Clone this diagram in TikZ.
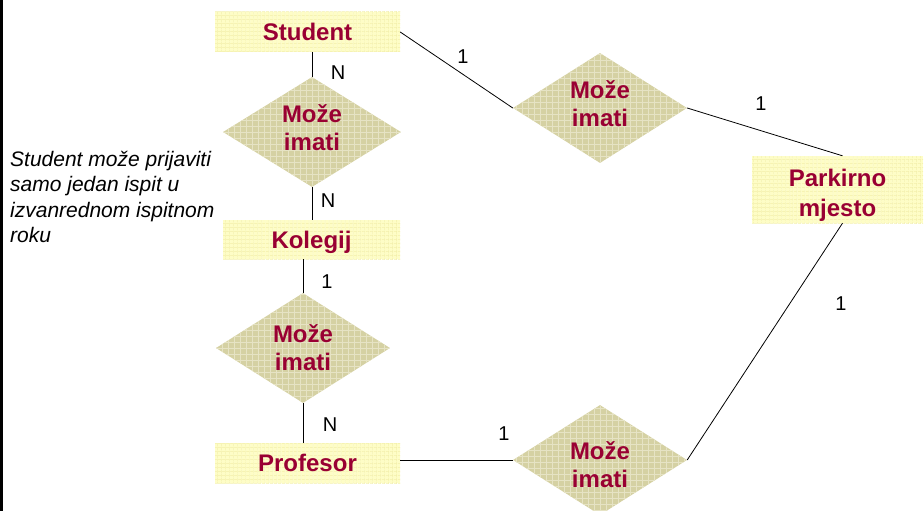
\documentclass[tikz,border=0pt]{standalone}
\usepackage{fontspec}
\setmainfont{Liberation Sans}
\usetikzlibrary{shapes.geometric,patterns.meta}
\definecolor{entfill}{HTML}{FEFDC6}
\definecolor{entgrid}{HTML}{F2EFA8}
\definecolor{relfill}{HTML}{D5D1A3}
\definecolor{relgrid}{HTML}{E6E3C4}
\definecolor{ertext}{HTML}{990033}
\tikzset{
  entity/.style={rectangle, inner sep=0pt, fill=entfill,
    postaction={pattern={Lines[angle=0,distance=4pt,line width=0.7pt]}, pattern color=entgrid},
    postaction={pattern={Lines[angle=90,distance=4pt,line width=0.7pt]}, pattern color=entgrid},
    text=ertext, font=\fontsize{24}{30}\selectfont\bfseries},
  relation/.style={diamond, inner sep=0pt, minimum width=174pt, minimum height=110pt, fill=relfill,
    postaction={pattern={Lines[angle=0,distance=6pt,line width=1pt]}, pattern color=relgrid},
    postaction={pattern={Lines[angle=90,distance=6pt,line width=1pt]}, pattern color=relgrid}},
  ertxt/.style={inner sep=0pt, align=center, text=ertext, font=\fontsize{24}{28}\selectfont\bfseries},
  card/.style={font=\fontsize{20}{24}\selectfont, inner sep=0pt},
  link/.style={draw=black, line width=0.8pt}
}
\begin{document}
\begin{tikzpicture}[x=1pt,y=-1pt]
  \useasboundingbox (0,0) rectangle (924,511);
  \fill[black] (0,0) rectangle (3,511);

  % entities
  \node[entity, minimum width=185pt, minimum height=40pt] (student) at (307.5,32) {Student};
  \node[entity, minimum width=177pt, minimum height=39pt, text depth=0pt] (kolegij) at (311.5,239.5) {Kolegij};
  \node[entity, minimum width=185pt, minimum height=40pt] (profesor) at (307.5,463) {Profesor};
  \node[entity, minimum width=171pt, minimum height=67pt] (parking) at (837.5,189.5) {};
  \node[ertxt, font=\fontsize{24}{30}\selectfont\bfseries] (parkingtxt) at (837.5,195.5) {Parkirno\\mjesto};

  % relationships
  \node[relation, minimum width=178pt] (r1) at (312,132) {};
  \node[relation] (r2) at (303,348) {};
  \node[relation] (r3) at (600,108) {};
  \node[relation] (r4) at (600,460) {};
  \node[ertxt] (r1txt) at (312,128) {Može\\imati};
  \node[ertxt] (r2txt) at (303,347.5) {Može\\imati};
  \node[ertxt] (r3txt) at (600,103.5) {Može\\imati};
  \node[ertxt] (r4txt) at (600,464.5) {Može\\imati};

  % connectors
  \draw[link] (student.south -| r1.north) -- (r1.north);
  \draw[link] (r1.south) -- (r1.south |- kolegij.north);
  \draw[link] (r2.north |- kolegij.south) -- (r2.north);
  \draw[link] (r2.south) -- (r2.south |- profesor.north);
  \draw[link] (student.east) -- (r3.west);
  \draw[link] (r3.east) -- ([xshift=5pt]parking.north);
  \draw[link] (profesor.east |- r4.west) -- (r4.west);
  \draw[link] (r4.east) -- ([xshift=5pt]parking.south);

  % cardinalities
  \node[card] (c1) at (338,73) {N};
  \node[card] (c2) at (328,201) {N};
  \node[card] (c3) at (327,282) {1};
  \node[card] (c4) at (330,425) {N};
  \node[card] (c5) at (463,57) {1};
  \node[card] (c6) at (761,104) {1};
  \node[card] (c7) at (841,304) {1};
  \node[card] (c8) at (504,434) {1};

  % note
  \node[anchor=north west, inner sep=0pt, align=left,
        font=\fontsize{21}{25.3}\selectfont\itshape] (note) at (10,151)
    {Student može prijaviti\\samo jedan ispit u\\izvanrednom ispitnom\\roku};
\end{tikzpicture}
\end{document}
